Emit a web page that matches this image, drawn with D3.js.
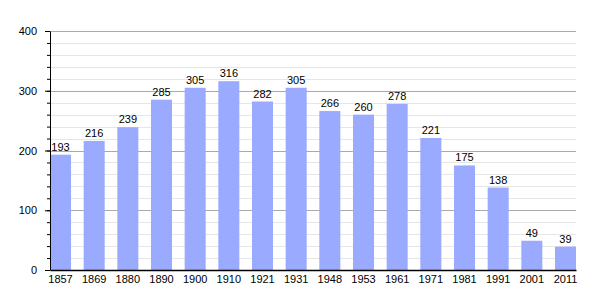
<!DOCTYPE html>
<html>
<head>
<meta charset="utf-8">
<script src="https://d3js.org/d3.v7.min.js"></script>
<style>
body { margin: 0; background: #fff; }
svg text { font-family: "Liberation Sans", Arial, sans-serif; font-size: 11px; fill: #000; }
</style>
</head>
<body>
<svg id="chart" width="605" height="300"></svg>
<script>
// census years and population
var years = ["1857","1869","1880","1890","1900","1910","1921","1931","1948","1953","1961","1971","1981","1991","2001","2011"];
var population = [193,216,239,285,305,316,282,305,266,260,278,221,175,138,49,39];
var yTicks = [0,100,200,300,400];

var plot_left = 50, plot_right = 576, plot_top = 31, plot_bottom = 270;

var svg = d3.select("#chart");

var x = d3.scaleBand()
    .domain(years)
    .range([plot_left, plot_right])
    .paddingInner(0.376)
    .paddingOuter(0);

var y = d3.scaleLinear()
    .domain([0, 400])
    .range([plot_bottom, plot_top]);

// minor gridlines every 20
svg.append("g")
  .selectAll("line")
  .data(d3.range(20, 400, 20).filter(function(v){ return v % 100 != 0; }))
  .enter().append("line")
  .attr("x1", plot_left).attr("x2", plot_right)
  .attr("y1", function(d){ return Math.round(y(d)) + 0.5; })
  .attr("y2", function(d){ return Math.round(y(d)) + 0.5; })
  .attr("stroke", "#e6e6e6");

// major gridlines
svg.append("g")
  .selectAll("line")
  .data(yTicks.slice(1))
  .enter().append("line")
  .attr("x1", plot_left).attr("x2", plot_right)
  .attr("y1", function(d){ return Math.round(y(d)) + 0.5; })
  .attr("y2", function(d){ return Math.round(y(d)) + 0.5; })
  .attr("stroke", "#aaaaaa");

// bars
svg.append("g")
  .selectAll("rect")
  .data(years)
  .enter().append("rect")
  .attr("x", function(d){ return x(d); })
  .attr("width", x.bandwidth())
  .attr("y", function(d,i){ return y(population[i]); })
  .attr("height", function(d,i){ return plot_bottom - y(population[i]); })
  .attr("fill", "#99aaff");

// value labels
svg.append("g")
  .selectAll("text")
  .data(years)
  .enter().append("text")
  .attr("x", function(d){ return x(d) + x.bandwidth()/2; })
  .attr("y", function(d,i){ return y(population[i]) - 4; })
  .attr("text-anchor", "middle")
  .text(function(d,i){ return population[i]; });

// y axis minor ticks
svg.append("g")
  .attr("transform", "translate(" + plot_left + ",0)")
  .call(d3.axisLeft(y).tickValues(d3.range(0, 401, 20)).tickSize(3).tickFormat(""))
  .call(function(g){ g.select(".domain").remove(); g.selectAll("line").attr("stroke","#000"); });

// y axis
svg.append("g")
  .attr("transform", "translate(" + plot_left + ",0)")
  .call(d3.axisLeft(y).tickValues(yTicks).tickSize(5).tickPadding(8).tickSizeOuter(0))
  .call(function(g){
    g.selectAll("text").style("font-size","11px").attr("fill","#000");
    g.selectAll("line,path").attr("stroke","#000");
  });

// x axis
svg.append("g")
  .attr("transform", "translate(0," + plot_bottom + ")")
  .call(d3.axisBottom(x).tickSize(0).tickPadding(5).tickSizeOuter(0))
  .call(function(g){
    g.selectAll("text").style("font-size","11px").attr("fill","#000");
    g.select(".domain").attr("stroke","#000").attr("stroke-width",1.5);
  });
</script>
</body>
</html>
